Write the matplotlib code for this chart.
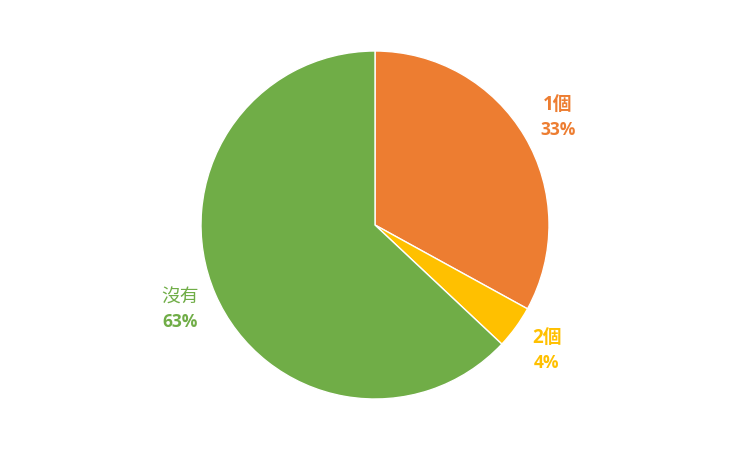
import numpy as np
import matplotlib
matplotlib.use("Agg")
import matplotlib.pyplot as plt

labels = ["1個", "2個", "沒有"]
values = [33, 4, 63]
colors = ["#ED7D31", "#FFC000", "#70AD47"]

plt.rcParams['font.family'] = ['Open Sans', 'Noto Sans CJK TC', 'DejaVu Sans']

fig = plt.figure(figsize=(7.5, 4.5), dpi=100)
ax = fig.add_axes([0, 0, 1, 1])

R = 174
cx, cy = 375, 225
wedges, _ = ax.pie(values, colors=colors, startangle=90, counterclock=False,
                   radius=R, center=(cx, cy), frame=True,
                   wedgeprops=dict(edgecolor='white', linewidth=1))
ax.set_xlim(0, 750)
ax.set_ylim(0, 450)
ax.set_aspect('equal')
ax.axis('off')

for w, lab, v, c in zip(wedges, labels, values, colors):
    ang = np.deg2rad((w.theta1 + w.theta2) / 2)
    x = cx + 1.22 * R * np.cos(ang)
    y = cy + 1.22 * R * np.sin(ang)
    ax.text(x, y + 12, lab, color=c, fontsize=13.5, ha='center', va='center',
            family=['Open Sans', 'Noto Sans CJK TC'], weight='bold' if lab != "沒有" else 'normal')
    ax.text(x, y - 13, f"{v}%", color=c, fontsize=12.5, ha='center', va='center',
            weight='bold')

fig.savefig("out.png", dpi=100)
